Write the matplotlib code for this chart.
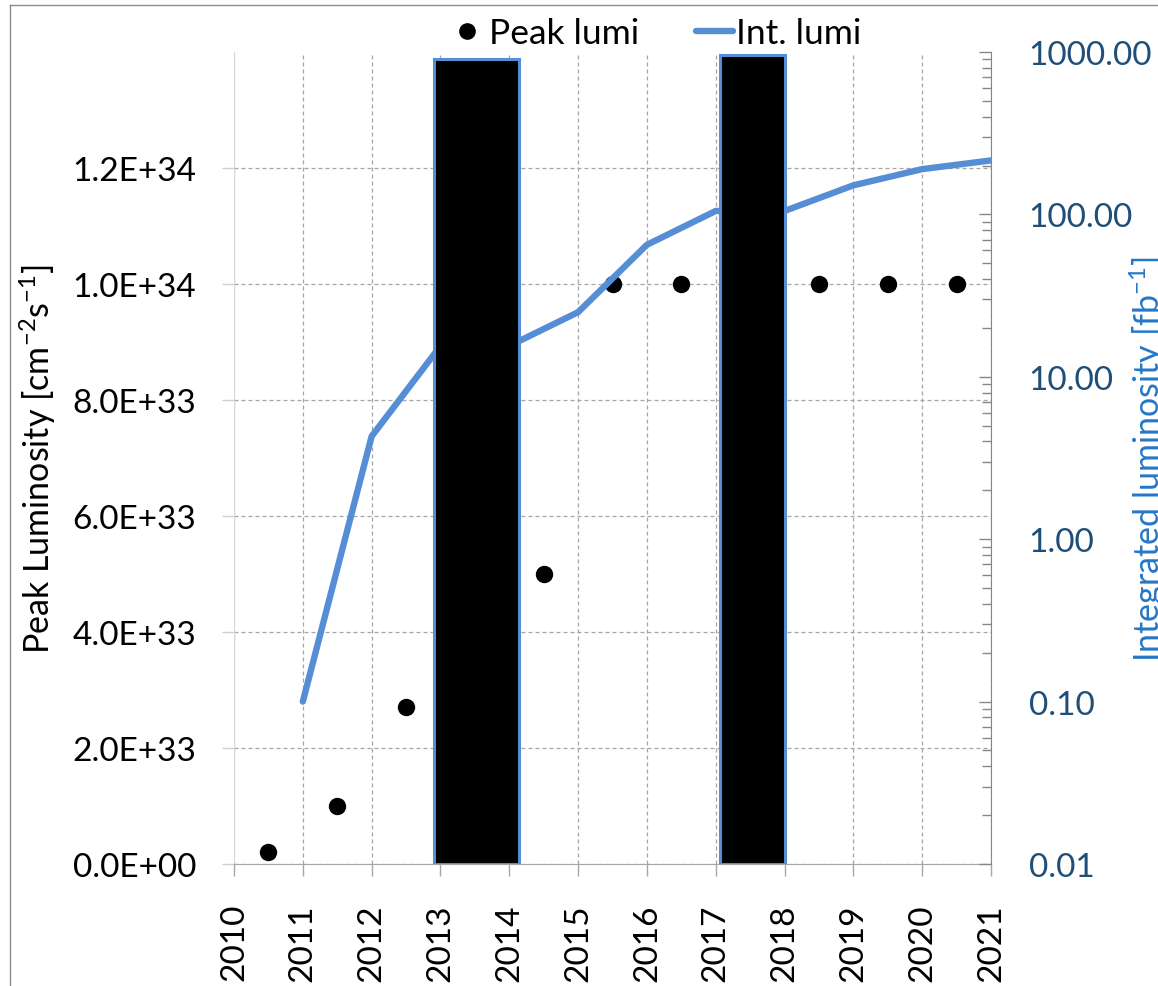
import matplotlib
matplotlib.use("Agg")
import matplotlib.pyplot as plt
from matplotlib.lines import Line2D
from matplotlib.ticker import FuncFormatter, FixedLocator, LogLocator, NullFormatter

# Peak luminosity per year (cm^-2 s^-1)
years_peak = [2010.5, 2011.5, 2012.5, 2014.5, 2015.5, 2016.5, 2018.5, 2019.5, 2020.5]
peak_lumi = [2.0e32, 1.0e33, 2.7e33, 5.0e33, 1.0e34, 1.0e34, 1.0e34, 1.0e34, 1.0e34]

# Integrated luminosity at the end of each year (fb^-1)
years_int = [2011, 2012, 2013, 2014, 2015, 2016, 2017, 2018, 2019, 2020, 2021]
int_lumi = [0.1, 4.3, 15.5, 15.5, 25.0, 65.0, 105.0, 105.0, 151.0, 190.0, 215.0]

# Long shutdown periods (drawn as blocks in peak-luminosity units)
shutdown_start = [2012.91, 2017.06]
shutdown_end = [2014.14, 2018.0]
shutdown_height = [1.388e34, 1.395e34]

year_ticks = list(range(2010, 2022))
peak_ticks = [0.0, 2.0e33, 4.0e33, 6.0e33, 8.0e33, 1.0e34, 1.2e34]
int_ticks = [0.01, 0.1, 1.0, 10.0, 100.0, 1000.0]

FONT = "Lato"
plt.rcParams["font.family"] = [FONT, "DejaVu Sans"]
plt.rcParams["mathtext.fontset"] = "custom"
plt.rcParams["mathtext.rm"] = FONT
plt.rcParams["mathtext.it"] = FONT
plt.rcParams["mathtext.default"] = "regular"

FS = 24
FS_LAB = 24.5
FS_LEG = 25.5
BLUE = "#558ED5"
GRID = "#a6a6a6"
W, H = 1158, 987

fig = plt.figure(figsize=(W / 100, H / 100), dpi=100)
ax = fig.add_axes([234 / W, 1 - 865 / H, (991 - 234) / W, (865 - 53) / H])
ax2 = ax.twinx()

# left axis: peak luminosity
ax.set_xlim(2010, 2021)
ax.set_ylim(0, 1.4e34)
ax.xaxis.set_major_locator(FixedLocator(year_ticks))
ax.yaxis.set_major_locator(FixedLocator(peak_ticks))
ax.yaxis.set_major_formatter(FuncFormatter(lambda v, p: f"{v:.1E}"))
ax.set_xticklabels([str(y) for y in year_ticks], rotation=90, fontsize=FS)
ax.tick_params(axis="y", direction="out", length=8.6, width=1, color="#d0d0d0",
               pad=18.5, labelsize=FS, labelcolor="black")
ax.tick_params(axis="x", direction="out", length=8.6, width=1, color=GRID,
               pad=19.5, labelsize=FS)
ax.grid(True, which="major", color=GRID, linestyle=(0, (3.2, 2.4)), linewidth=0.9)
ax.set_axisbelow(True)
for s in ("top", "right"):
    ax.spines[s].set_visible(False)
ax.spines["left"].set_color("#d9d9d9")
ax.spines["bottom"].set_color(GRID)
ax.spines["bottom"].set_zorder(3)

ax.plot(years_peak, peak_lumi, linestyle="none", marker="o", markersize=11.5,
        color="black", zorder=2, label="Peak lumi")

ax.set_ylabel(r"Peak Luminosity [cm$^{-2}$s$^{-1}$]", fontsize=FS_LAB, color="black")
ax.yaxis.set_label_coords((58 - 234) / (991 - 234), 0.5)

# right axis: integrated luminosity
ax2.set_yscale("log")
ax2.set_ylim(0.01, 1000)
ax2.yaxis.set_major_locator(FixedLocator(int_ticks))
ax2.yaxis.set_major_formatter(FuncFormatter(lambda v, p: f"{v:.2f}"))
ax2.yaxis.set_minor_locator(LogLocator(base=10, subs=[2, 3, 4, 5, 6, 7, 8, 9], numticks=20))
ax2.yaxis.set_minor_formatter(NullFormatter())
ax2.tick_params(axis="y", which="major", direction="in", length=8.6, width=1,
                color="#868686", pad=27, labelsize=FS, labelcolor="#1F4E79")
ax2.tick_params(axis="y", which="minor", direction="in", length=6.5, width=1,
                color="#868686")
for s in ("top", "left", "bottom"):
    ax2.spines[s].set_visible(False)
ax2.spines["right"].set_color("#868686")

ax2.plot(years_int, int_lumi, color=BLUE, linewidth=4.6, solid_capstyle="round",
         solid_joinstyle="round", zorder=2, label="Int. lumi")

# shutdown blocks, above the luminosity curve
widths = [e - s for s, e in zip(shutdown_start, shutdown_end)]
ax2.bar(shutdown_start, shutdown_height, width=widths, bottom=0, align="edge",
        facecolor="black", edgecolor=BLUE, linewidth=2.2, zorder=3,
        transform=ax.transData)
ax2.set_ylim(0.01, 1000)

ax2.set_ylabel(r"Integrated luminosity [fb$^{-1}$]", fontsize=FS_LAB, color="#2577C6")
ax2.yaxis.set_label_coords((1128 - 234) / (991 - 234), 0.5)

# legend across the top
handles = [
    Line2D([], [], linestyle="none", marker="o", markersize=11, color="black"),
    Line2D([], [], color=BLUE, linewidth=4.6, solid_capstyle="round"),
]
fig.legend(handles, ["Peak lumi", "Int. lumi"], loc="center",
           bbox_to_anchor=(655 / W, 1 - 34 / H), ncol=2, frameon=False,
           fontsize=FS_LEG, handlelength=1.05, handletextpad=0.1,
           columnspacing=1.6, numpoints=1, borderpad=0)

# outer chart frame (left and top edges)
fig.add_artist(Line2D([9.5 / W, 9.5 / W], [0, 1 - 5.5 / H], color="#8c8c8c",
                      linewidth=1, transform=fig.transFigure))
fig.add_artist(Line2D([9.5 / W, 1], [1 - 5.5 / H, 1 - 5.5 / H], color="#8c8c8c",
                      linewidth=1, transform=fig.transFigure))

fig.savefig("out.png", dpi=100)
